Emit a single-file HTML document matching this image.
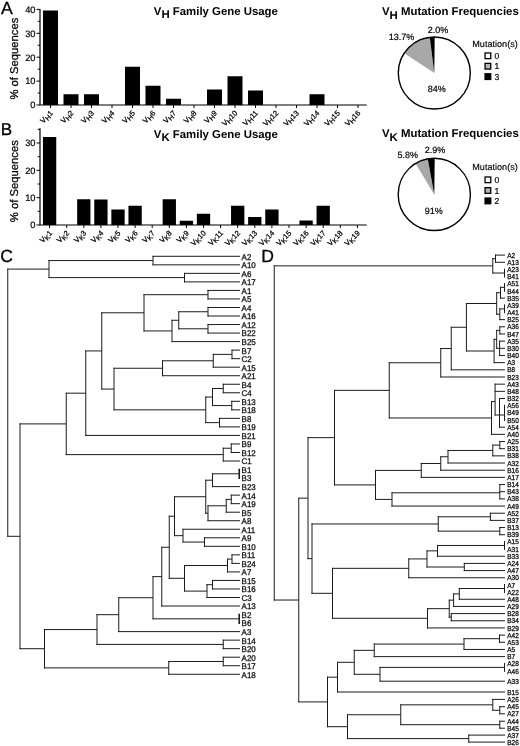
<!DOCTYPE html>
<html><head><meta charset="utf-8"><title>Figure</title>
<style>html,body{margin:0;padding:0;background:#fff}svg{display:block}text{font-family:"Liberation Sans", sans-serif;text-rendering:geometricPrecision}</style>
</head><body>
<div style="will-change:transform;width:520px;height:746px">
<svg width="520" height="746" viewBox="0 0 520 746">
<g font-size="17.6" fill="#000" stroke="#000" stroke-width="0.3">
<text x="1.0" y="13.9">A</text>
<text x="0.7" y="135.2" font-size="17">B</text>
<text x="0.3" y="261.9" font-size="17.6">C</text>
<text x="261.2" y="262.1" font-size="17.6">D</text>
</g>
<path d="M40.00 9.00V105.00H366.75" fill="none" stroke="#000" stroke-width="1.2"/><path d="M36.50 105.00H40.00M36.50 81.10H40.00M36.50 57.20H40.00M36.50 33.30H40.00M36.50 9.40H40.00M37.70 93.05H40.00M37.70 69.15H40.00M37.70 45.25H40.00M37.70 21.35H40.00M50.50 105.00V108.00M71.00 105.00V108.00M91.50 105.00V108.00M112.00 105.00V108.00M132.50 105.00V108.00M153.00 105.00V108.00M173.50 105.00V108.00M194.00 105.00V108.00M214.50 105.00V108.00M235.00 105.00V108.00M255.50 105.00V108.00M276.00 105.00V108.00M296.50 105.00V108.00M317.00 105.00V108.00M337.50 105.00V108.00M358.00 105.00V108.00" fill="none" stroke="#000" stroke-width="1"/><g font-size="9.3" text-anchor="end" fill="#000" stroke="#000" stroke-width="0.2"><text x="35.50" y="108.30">0</text><text x="35.50" y="84.40">10</text><text x="35.50" y="60.50">20</text><text x="35.50" y="36.60">30</text><text x="35.50" y="12.70">40</text></g><path d="M43.00 105.00h15.00V10.60h-15.00zM63.50 105.00h15.00V94.25h-15.00zM84.00 105.00h15.00V94.25h-15.00zM125.00 105.00h15.00V66.76h-15.00zM145.50 105.00h15.00V85.76h-15.00zM166.00 105.00h15.00V98.79h-15.00zM207.00 105.00h15.00V89.47h-15.00zM227.50 105.00h15.00V76.32h-15.00zM248.00 105.00h15.00V90.54h-15.00zM309.50 105.00h15.00V94.25h-15.00z" fill="#000"/><g fill="#000" stroke="#000" stroke-width="0.25"><text transform="translate(53.50 113.50) rotate(-45)" text-anchor="end" font-size="7.50">V<tspan font-size="7.12" dy="1.6">H</tspan><tspan dy="-1.6">1</tspan></text><text transform="translate(74.00 113.50) rotate(-45)" text-anchor="end" font-size="7.50">V<tspan font-size="7.12" dy="1.6">H</tspan><tspan dy="-1.6">2</tspan></text><text transform="translate(94.50 113.50) rotate(-45)" text-anchor="end" font-size="7.50">V<tspan font-size="7.12" dy="1.6">H</tspan><tspan dy="-1.6">3</tspan></text><text transform="translate(115.00 113.50) rotate(-45)" text-anchor="end" font-size="7.50">V<tspan font-size="7.12" dy="1.6">H</tspan><tspan dy="-1.6">4</tspan></text><text transform="translate(135.50 113.50) rotate(-45)" text-anchor="end" font-size="7.50">V<tspan font-size="7.12" dy="1.6">H</tspan><tspan dy="-1.6">5</tspan></text><text transform="translate(156.00 113.50) rotate(-45)" text-anchor="end" font-size="7.50">V<tspan font-size="7.12" dy="1.6">H</tspan><tspan dy="-1.6">6</tspan></text><text transform="translate(176.50 113.50) rotate(-45)" text-anchor="end" font-size="7.50">V<tspan font-size="7.12" dy="1.6">H</tspan><tspan dy="-1.6">7</tspan></text><text transform="translate(197.00 113.50) rotate(-45)" text-anchor="end" font-size="7.50">V<tspan font-size="7.12" dy="1.6">H</tspan><tspan dy="-1.6">8</tspan></text><text transform="translate(217.50 113.50) rotate(-45)" text-anchor="end" font-size="7.50">V<tspan font-size="7.12" dy="1.6">H</tspan><tspan dy="-1.6">9</tspan></text><text transform="translate(238.00 113.50) rotate(-45)" text-anchor="end" font-size="7.50">V<tspan font-size="7.12" dy="1.6">H</tspan><tspan dy="-1.6">10</tspan></text><text transform="translate(258.50 113.50) rotate(-45)" text-anchor="end" font-size="7.50">V<tspan font-size="7.12" dy="1.6">H</tspan><tspan dy="-1.6">11</tspan></text><text transform="translate(279.00 113.50) rotate(-45)" text-anchor="end" font-size="7.50">V<tspan font-size="7.12" dy="1.6">H</tspan><tspan dy="-1.6">12</tspan></text><text transform="translate(299.50 113.50) rotate(-45)" text-anchor="end" font-size="7.50">V<tspan font-size="7.12" dy="1.6">H</tspan><tspan dy="-1.6">13</tspan></text><text transform="translate(320.00 113.50) rotate(-45)" text-anchor="end" font-size="7.50">V<tspan font-size="7.12" dy="1.6">H</tspan><tspan dy="-1.6">14</tspan></text><text transform="translate(340.50 113.50) rotate(-45)" text-anchor="end" font-size="7.50">V<tspan font-size="7.12" dy="1.6">H</tspan><tspan dy="-1.6">15</tspan></text><text transform="translate(361.00 113.50) rotate(-45)" text-anchor="end" font-size="7.50">V<tspan font-size="7.12" dy="1.6">H</tspan><tspan dy="-1.6">16</tspan></text></g>
<text transform="translate(18.3 58.6) rotate(-90)" text-anchor="middle" font-size="11.25" stroke="#000" stroke-width="0.25">% of Sequences</text>
<text x="153.80" y="14.80" font-size="11.40" font-weight="bold">V<tspan dy="3.00">H</tspan><tspan dy="-3.00"> Family Gene Usage</tspan></text>
<path d="M40.00 128.25V225.00H366.75" fill="none" stroke="#000" stroke-width="1.2"/><path d="M36.50 225.00H40.00M36.50 197.67H40.00M36.50 170.34H40.00M36.50 143.01H40.00M37.70 211.34H40.00M37.70 184.00H40.00M37.70 156.68H40.00M37.70 129.35H40.00M49.60 225.00V228.00M66.70 225.00V228.00M83.80 225.00V228.00M100.90 225.00V228.00M118.00 225.00V228.00M135.10 225.00V228.00M152.20 225.00V228.00M169.30 225.00V228.00M186.40 225.00V228.00M203.50 225.00V228.00M220.60 225.00V228.00M237.70 225.00V228.00M254.80 225.00V228.00M271.90 225.00V228.00M289.00 225.00V228.00M306.10 225.00V228.00M323.20 225.00V228.00M340.30 225.00V228.00M357.40 225.00V228.00" fill="none" stroke="#000" stroke-width="1"/><g font-size="9.3" text-anchor="end" fill="#000" stroke="#000" stroke-width="0.2"><text x="35.50" y="228.30">0</text><text x="35.50" y="200.97">10</text><text x="35.50" y="173.64">20</text><text x="35.50" y="146.31">30</text></g><path d="M42.95 225.00h13.30V137.00h-13.30zM77.15 225.00h13.30V199.31h-13.30zM94.25 225.00h13.30V199.58h-13.30zM111.35 225.00h13.30V209.56h-13.30zM128.45 225.00h13.30V205.73h-13.30zM162.65 225.00h13.30V199.31h-13.30zM179.75 225.00h13.30V220.76h-13.30zM196.85 225.00h13.30V213.79h-13.30zM231.05 225.00h13.30V205.73h-13.30zM248.15 225.00h13.30V217.07h-13.30zM265.25 225.00h13.30V209.56h-13.30zM299.45 225.00h13.30V220.49h-13.30zM316.55 225.00h13.30V205.73h-13.30z" fill="#000"/><g fill="#000" stroke="#000" stroke-width="0.25"><text transform="translate(52.60 233.50) rotate(-45)" text-anchor="end" font-size="7.50">V<tspan font-size="7.12" dy="1.6">K</tspan><tspan dy="-1.6">1</tspan></text><text transform="translate(69.70 233.50) rotate(-45)" text-anchor="end" font-size="7.50">V<tspan font-size="7.12" dy="1.6">K</tspan><tspan dy="-1.6">2</tspan></text><text transform="translate(86.80 233.50) rotate(-45)" text-anchor="end" font-size="7.50">V<tspan font-size="7.12" dy="1.6">K</tspan><tspan dy="-1.6">3</tspan></text><text transform="translate(103.90 233.50) rotate(-45)" text-anchor="end" font-size="7.50">V<tspan font-size="7.12" dy="1.6">K</tspan><tspan dy="-1.6">4</tspan></text><text transform="translate(121.00 233.50) rotate(-45)" text-anchor="end" font-size="7.50">V<tspan font-size="7.12" dy="1.6">K</tspan><tspan dy="-1.6">5</tspan></text><text transform="translate(138.10 233.50) rotate(-45)" text-anchor="end" font-size="7.50">V<tspan font-size="7.12" dy="1.6">K</tspan><tspan dy="-1.6">6</tspan></text><text transform="translate(155.20 233.50) rotate(-45)" text-anchor="end" font-size="7.50">V<tspan font-size="7.12" dy="1.6">K</tspan><tspan dy="-1.6">7</tspan></text><text transform="translate(172.30 233.50) rotate(-45)" text-anchor="end" font-size="7.50">V<tspan font-size="7.12" dy="1.6">K</tspan><tspan dy="-1.6">8</tspan></text><text transform="translate(189.40 233.50) rotate(-45)" text-anchor="end" font-size="7.50">V<tspan font-size="7.12" dy="1.6">K</tspan><tspan dy="-1.6">9</tspan></text><text transform="translate(206.50 233.50) rotate(-45)" text-anchor="end" font-size="7.50">V<tspan font-size="7.12" dy="1.6">K</tspan><tspan dy="-1.6">10</tspan></text><text transform="translate(223.60 233.50) rotate(-45)" text-anchor="end" font-size="7.50">V<tspan font-size="7.12" dy="1.6">K</tspan><tspan dy="-1.6">11</tspan></text><text transform="translate(240.70 233.50) rotate(-45)" text-anchor="end" font-size="7.50">V<tspan font-size="7.12" dy="1.6">K</tspan><tspan dy="-1.6">12</tspan></text><text transform="translate(257.80 233.50) rotate(-45)" text-anchor="end" font-size="7.50">V<tspan font-size="7.12" dy="1.6">K</tspan><tspan dy="-1.6">13</tspan></text><text transform="translate(274.90 233.50) rotate(-45)" text-anchor="end" font-size="7.50">V<tspan font-size="7.12" dy="1.6">K</tspan><tspan dy="-1.6">14</tspan></text><text transform="translate(292.00 233.50) rotate(-45)" text-anchor="end" font-size="7.50">V<tspan font-size="7.12" dy="1.6">K</tspan><tspan dy="-1.6">15</tspan></text><text transform="translate(309.10 233.50) rotate(-45)" text-anchor="end" font-size="7.50">V<tspan font-size="7.12" dy="1.6">K</tspan><tspan dy="-1.6">16</tspan></text><text transform="translate(326.20 233.50) rotate(-45)" text-anchor="end" font-size="7.50">V<tspan font-size="7.12" dy="1.6">K</tspan><tspan dy="-1.6">17</tspan></text><text transform="translate(343.30 233.50) rotate(-45)" text-anchor="end" font-size="7.50">V<tspan font-size="7.12" dy="1.6">K</tspan><tspan dy="-1.6">18</tspan></text><text transform="translate(360.40 233.50) rotate(-45)" text-anchor="end" font-size="7.50">V<tspan font-size="7.12" dy="1.6">K</tspan><tspan dy="-1.6">19</tspan></text></g>
<text transform="translate(18.1 181.2) rotate(-90)" text-anchor="middle" font-size="11.25" stroke="#000" stroke-width="0.25">% of Sequences</text>
<text x="153.80" y="138.40" font-size="11.40" font-weight="bold">V<tspan dy="2.90">K</tspan><tspan dy="-2.90"> Family Gene Usage</tspan></text>
<text x="382.00" y="14.50" font-size="11.40" font-weight="bold">V<tspan dy="4.00">H</tspan><tspan dy="-4.00"> Mutation Frequencies</tspan></text>
<circle cx="434.30" cy="73.00" r="36.00" fill="#fff"/><path d="M434.30 73.00L429.79 37.28A36.00 36.00 0 0 0 404.27 53.14z" fill="#a8a8a8"/><path d="M434.30 73.00L434.70 37.00A36.00 36.00 0 0 0 429.79 37.28z" fill="#000"/><circle cx="434.30" cy="73.00" r="36.00" fill="none" stroke="#000" stroke-width="1.4"/>
<g font-size="9" fill="#000" stroke="#000" stroke-width="0.2">
<text x="427.7" y="32.7">2.0%</text>
<text x="388.7" y="40">13.7%</text>
<text x="427.7" y="92.4">84%</text>
</g>
<text x="472.3" y="46.50" font-size="9.1" stroke="#000" stroke-width="0.15">Mutation(s)</text><rect x="485.05" y="52.95" width="5.7" height="5.7" fill="#fff" stroke="#000" stroke-width="1.3"/><text x="494.55" y="58.80" font-size="8.6" stroke="#000" stroke-width="0.2">0</text><rect x="485.05" y="63.35" width="5.7" height="5.7" fill="#b4b4b4" stroke="#000" stroke-width="1.3"/><text x="494.55" y="69.20" font-size="8.6" stroke="#000" stroke-width="0.2">1</text><rect x="485.05" y="73.75" width="5.7" height="5.7" fill="#000" stroke="#000" stroke-width="1.3"/><text x="494.55" y="79.60" font-size="8.6" stroke="#000" stroke-width="0.2">3</text>
<text x="382.00" y="137.00" font-size="11.40" font-weight="bold">V<tspan dy="4.00">K</tspan><tspan dy="-4.00"> Mutation Frequencies</tspan></text>
<circle cx="434.30" cy="194.40" r="36.10" fill="#fff"/><path d="M434.30 194.40L427.76 158.90A36.10 36.10 0 0 0 415.53 163.56z" fill="#a8a8a8"/><path d="M434.30 194.40L434.70 158.30A36.10 36.10 0 0 0 427.76 158.90z" fill="#000"/><circle cx="434.30" cy="194.40" r="36.10" fill="none" stroke="#000" stroke-width="1.4"/>
<g font-size="9" fill="#000" stroke="#000" stroke-width="0.2">
<text x="424.8" y="153.3">2.9%</text>
<text x="397.4" y="158.2">5.8%</text>
<text x="424.8" y="213.9">91%</text>
</g>
<text x="472.3" y="169.80" font-size="9.1" stroke="#000" stroke-width="0.15">Mutation(s)</text><rect x="485.05" y="176.95" width="5.7" height="5.7" fill="#fff" stroke="#000" stroke-width="1.3"/><text x="494.55" y="182.80" font-size="8.6" stroke="#000" stroke-width="0.2">0</text><rect x="485.05" y="187.65" width="5.7" height="5.7" fill="#b4b4b4" stroke="#000" stroke-width="1.3"/><text x="494.55" y="193.50" font-size="8.6" stroke="#000" stroke-width="0.2">1</text><rect x="485.05" y="198.05" width="5.7" height="5.7" fill="#000" stroke="#000" stroke-width="1.3"/><text x="494.55" y="203.90" font-size="8.6" stroke="#000" stroke-width="0.2">2</text>
<path d="M153.00 255.80V265.33M152.50 256.30H240.00M152.50 264.83H240.00M184.50 272.86V282.39M184.00 273.36H240.00M184.00 281.89H240.00M49.00 260.06V278.12M48.50 260.56H153.00M48.50 277.62H184.50M208.00 289.92V299.45M207.50 290.42H240.00M207.50 298.95H240.00M208.00 306.98V316.51M207.50 307.48H240.00M207.50 316.01H240.00M208.00 324.04V333.57M207.50 324.54H240.00M207.50 333.07H240.00M178.75 311.25V329.31M178.25 311.75H208.00M178.25 328.81H208.00M172.00 319.77V342.10M171.50 320.27H178.75M171.50 341.60H240.00M144.00 294.19V331.44M143.50 294.69H208.00M143.50 330.94H172.00M232.00 349.63V359.16M231.50 350.13H240.00M231.50 358.66H240.00M213.25 353.89V367.69M212.75 354.39H232.00M212.75 367.19H240.00M162.50 360.29V376.22M162.00 360.79H213.25M162.00 375.72H240.00M223.25 383.75V393.28M222.75 384.25H240.00M222.75 392.78H240.00M231.75 400.81V410.34M231.25 401.31H240.00M231.25 409.84H240.00M212.50 388.01V406.08M212.00 388.51H223.25M212.00 405.58H231.75M219.50 417.87V427.40M219.00 418.37H240.00M219.00 426.90H240.00M205.75 396.55V423.13M205.25 397.05H212.50M205.25 422.63H219.50M114.00 367.76V410.34M113.50 368.26H162.50M113.50 409.84H205.75M101.75 312.31V389.55M101.25 312.81H144.00M101.25 389.05H114.00M85.75 350.43V435.93M85.25 350.93H101.75M85.25 435.43H240.00M231.25 443.46V452.99M230.75 443.96H240.00M230.75 452.49H240.00M223.25 447.73V461.52M222.75 448.23H231.25M222.75 461.02H240.00M66.25 392.68V455.12M65.75 393.18H85.75M65.75 454.62H223.25M238.75 469.55H240.00M238.75 478.08H240.00M212.50 473.31V487.11M212.00 473.81H239.25M212.00 486.61H240.00M231.25 494.64V504.17M230.75 495.14H240.00M230.75 503.67H240.00M226.25 498.90V512.70M225.75 499.40H231.25M225.75 512.20H240.00M208.00 505.30V521.23M207.50 505.80H226.25M207.50 520.73H240.00M205.75 479.71V513.77M205.25 480.21H212.50M205.25 513.27H208.00M204.50 537.29V546.82M204.00 537.79H240.00M204.00 546.32H240.00M183.00 528.76V542.55M182.50 529.26H240.00M182.50 542.05H204.50M174.50 496.24V536.16M174.00 496.74H205.75M174.00 535.66H183.00M232.00 554.35V563.88M231.50 554.85H240.00M231.50 563.38H240.00M227.50 558.62V572.41M227.00 559.12H232.00M227.00 571.91H240.00M212.50 579.94V589.47M212.00 580.44H240.00M212.00 588.97H240.00M207.00 584.21V598.00M206.50 584.71H212.50M206.50 597.50H240.00M184.50 565.01V591.60M184.00 565.51H227.50M184.00 591.10H207.00M169.25 515.70V578.81M168.75 516.20H174.50M168.75 578.31H184.50M161.75 546.75V606.53M161.25 547.25H169.25M161.25 606.03H240.00M238.75 614.56H240.00M238.75 623.09H240.00M153.00 576.14V619.32M152.50 576.64H161.75M152.50 618.82H239.25M118.75 597.23V632.12M118.25 597.73H153.00M118.25 631.62H240.00M223.25 639.65V649.18M222.75 640.15H240.00M222.75 648.68H240.00M97.00 614.18V644.91M96.50 614.68H118.75M96.50 644.41H223.25M223.25 656.71V666.24M222.75 657.21H240.00M222.75 665.74H240.00M168.75 660.98V674.77M168.25 661.48H223.25M168.25 674.27H240.00M44.50 629.05V668.37M44.00 629.55H97.00M44.00 667.87H168.75M20.00 423.40V649.21M19.50 423.90H66.25M19.50 648.71H44.50M7.75 268.60V536.81M7.25 269.10H49.00M7.25 536.31H20.00" fill="none" stroke="#1c1c1c" stroke-width="1.00"/><path d="M239.25 468.75V478.88M239.25 613.76V623.89" fill="none" stroke="#1c1c1c" stroke-width="1.60"/><g font-size="8.30" fill="#111" stroke="#111" stroke-width="0.3"><text transform="translate(241.60 259.69) scale(0.960 1)">A2</text><text transform="translate(241.60 268.22) scale(0.960 1)">A10</text><text transform="translate(241.60 276.75) scale(0.960 1)">A6</text><text transform="translate(241.60 285.28) scale(0.960 1)">A17</text><text transform="translate(241.60 293.81) scale(0.960 1)">A1</text><text transform="translate(241.60 302.34) scale(0.960 1)">A5</text><text transform="translate(241.60 310.87) scale(0.960 1)">A4</text><text transform="translate(241.60 319.40) scale(0.960 1)">A16</text><text transform="translate(241.60 327.93) scale(0.960 1)">A12</text><text transform="translate(241.60 336.46) scale(0.960 1)">B22</text><text transform="translate(241.60 344.99) scale(0.960 1)">B25</text><text transform="translate(241.60 353.52) scale(0.960 1)">B7</text><text transform="translate(241.60 362.05) scale(0.960 1)">C2</text><text transform="translate(241.60 370.58) scale(0.960 1)">A15</text><text transform="translate(241.60 379.11) scale(0.960 1)">A21</text><text transform="translate(241.60 387.64) scale(0.960 1)">B4</text><text transform="translate(241.60 396.17) scale(0.960 1)">C4</text><text transform="translate(241.60 404.70) scale(0.960 1)">B13</text><text transform="translate(241.60 413.23) scale(0.960 1)">B18</text><text transform="translate(241.60 421.76) scale(0.960 1)">B8</text><text transform="translate(241.60 430.29) scale(0.960 1)">B19</text><text transform="translate(241.60 438.82) scale(0.960 1)">B21</text><text transform="translate(241.60 447.35) scale(0.960 1)">B9</text><text transform="translate(241.60 455.88) scale(0.960 1)">B12</text><text transform="translate(241.60 464.41) scale(0.960 1)">C1</text><text transform="translate(241.60 472.94) scale(0.960 1)">B1</text><text transform="translate(241.60 481.47) scale(0.960 1)">B3</text><text transform="translate(241.60 490.00) scale(0.960 1)">B23</text><text transform="translate(241.60 498.53) scale(0.960 1)">A14</text><text transform="translate(241.60 507.06) scale(0.960 1)">A19</text><text transform="translate(241.60 515.59) scale(0.960 1)">B5</text><text transform="translate(241.60 524.12) scale(0.960 1)">A8</text><text transform="translate(241.60 532.65) scale(0.960 1)">A11</text><text transform="translate(241.60 541.18) scale(0.960 1)">A9</text><text transform="translate(241.60 549.71) scale(0.960 1)">B10</text><text transform="translate(241.60 558.24) scale(0.960 1)">B11</text><text transform="translate(241.60 566.77) scale(0.960 1)">B24</text><text transform="translate(241.60 575.30) scale(0.960 1)">A7</text><text transform="translate(241.60 583.83) scale(0.960 1)">B15</text><text transform="translate(241.60 592.36) scale(0.960 1)">B16</text><text transform="translate(241.60 600.89) scale(0.960 1)">C3</text><text transform="translate(241.60 609.42) scale(0.960 1)">A13</text><text transform="translate(241.60 617.95) scale(0.960 1)">B2</text><text transform="translate(241.60 626.48) scale(0.960 1)">B6</text><text transform="translate(241.60 635.01) scale(0.960 1)">A3</text><text transform="translate(241.60 643.54) scale(0.960 1)">B14</text><text transform="translate(241.60 652.07) scale(0.960 1)">B20</text><text transform="translate(241.60 660.60) scale(0.960 1)">A20</text><text transform="translate(241.60 669.13) scale(0.960 1)">B17</text><text transform="translate(241.60 677.66) scale(0.960 1)">A18</text></g>
<path d="M495.50 254.60V262.77M495.00 255.10H505.00M495.00 262.27H505.00M504.00 269.44H505.00M504.00 276.61H505.00M492.80 258.19V273.52M492.30 258.69H495.50M492.30 273.02H504.50M504.00 283.78H505.00M504.00 290.95H505.00M500.50 286.87V298.62M500.00 287.37H504.50M500.00 298.12H505.00M504.00 305.29H505.00M504.00 312.46H505.00M499.80 308.38V320.13M499.30 308.88H504.50M499.30 319.63H505.00M496.70 292.24V314.75M496.20 292.74H500.50M496.20 314.25H499.80M499.80 326.30V334.47M499.30 326.80H505.00M499.30 333.97H505.00M499.60 340.64V355.98M499.10 341.14H505.00M499.10 348.31H505.00M499.10 355.48H505.00M496.70 329.88V348.81M496.20 330.38H499.80M496.20 348.31H499.60M494.10 338.85V363.15M493.60 339.35H496.70M493.60 362.65H505.00M466.40 303.00V351.50M465.90 303.50H496.70M465.90 351.00H494.10M451.25 326.75V370.32M450.75 327.25H466.40M450.75 369.82H505.00M440.75 348.03V377.49M440.25 348.53H451.25M440.25 376.99H505.00M504.00 405.67H505.00M504.00 412.84H505.00M504.00 420.01H505.00M499.50 398.00V427.68M499.00 398.50H505.00M499.00 415.00H504.50M499.00 427.18H505.00M495.10 383.66V415.50M494.60 384.16H505.00M494.60 391.33H505.00M494.60 415.00H499.50M491.50 401.10V434.85M491.00 401.60H495.10M491.00 434.35H505.00M389.25 362.26V418.48M388.75 362.76H440.75M388.75 417.98H491.50M499.80 441.02V449.19M499.30 441.52H505.00M499.30 448.69H505.00M492.80 444.61V456.36M492.30 445.11H499.80M492.30 455.86H505.00M448.00 449.98V463.53M447.50 450.48H492.80M447.50 463.03H505.00M440.75 456.26V470.70M440.25 456.76H448.00M440.25 470.20H505.00M421.25 462.98V477.87M420.75 463.48H440.75M420.75 477.37H505.00M499.80 484.04V499.38M499.30 484.54H505.00M499.30 491.71H505.00M499.30 498.88H505.00M392.00 492.30V506.55M391.50 492.80H499.80M391.50 506.05H505.00M375.50 469.92V499.92M375.00 470.42H421.25M375.00 499.42H392.00M334.50 389.87V485.42M334.00 390.37H389.25M334.00 484.92H375.50M490.40 512.72V520.89M489.90 513.22H505.00M489.90 520.39H505.00M499.80 527.06V535.23M499.30 527.56H505.00M499.30 534.73H505.00M438.25 516.31V531.64M437.75 516.81H490.40M437.75 531.14H499.80M504.00 541.90H505.00M504.00 549.07H505.00M437.50 544.98V556.74M437.00 545.48H504.50M437.00 556.24H505.00M464.30 562.91V571.08M463.80 563.41H505.00M463.80 570.58H505.00M427.00 550.36V567.50M426.50 550.86H437.50M426.50 567.00H464.30M408.75 558.43V578.25M408.25 558.93H427.00M408.25 577.75H505.00M504.00 584.92H505.00M504.00 592.09H505.00M459.30 588.00V599.76M458.80 588.50H504.50M458.80 599.26H505.00M453.60 593.38V606.93M453.10 593.88H459.30M453.10 606.43H505.00M451.25 613.10V621.27M450.75 613.60H505.00M450.75 620.77H505.00M449.25 599.66V617.68M448.75 600.16H453.60M448.75 617.18H451.25M427.50 608.17V628.44M427.00 608.67H449.25M427.00 627.94H505.00M332.50 567.84V618.81M332.00 568.34H408.75M332.00 618.31H427.50M312.00 523.48V593.82M311.50 523.98H438.25M311.50 593.32H332.50M308.00 437.15V559.15M307.50 437.65H334.50M307.50 558.65H312.00M499.50 634.61V642.78M499.00 635.11H505.00M499.00 642.28H505.00M464.00 638.19V649.95M463.50 638.69H499.50M463.50 649.45H505.00M374.25 643.57V657.12M373.75 644.07H464.00M373.75 656.62H505.00M504.00 663.79H505.00M504.00 670.96H505.00M380.00 666.88V681.70M379.50 667.38H504.50M379.50 681.20H505.00M354.25 649.85V674.79M353.75 650.35H374.25M353.75 674.29H380.00M337.50 661.82V692.50M337.00 662.32H354.25M337.00 692.00H505.00M499.80 706.20V714.30M499.30 706.70H505.00M499.30 713.80H505.00M492.80 698.90V710.75M492.30 699.40H505.00M492.30 710.25H499.80M499.80 720.70V728.70M499.30 721.20H505.00M499.30 728.20H505.00M400.75 704.33V725.20M400.25 704.83H492.80M400.25 724.70H499.80M468.75 734.60V742.60M468.25 735.10H505.00M468.25 742.10H505.00M347.50 714.26V739.10M347.00 714.76H400.75M347.00 738.60H468.75M327.50 676.66V727.18M327.00 677.16H337.50M327.00 726.68H347.50M298.75 497.65V702.42M298.25 498.15H308.00M298.25 701.92H327.50M274.25 265.36V600.53M273.75 265.86H492.80M273.75 600.03H298.75" fill="none" stroke="#1c1c1c" stroke-width="1.00"/><path d="M504.50 268.64V277.41M504.50 282.98V291.75M504.50 304.49V313.26M504.50 404.87V420.81M504.50 541.10V549.87M504.50 584.12V592.89M504.50 662.99V671.76" fill="none" stroke="#1c1c1c" stroke-width="1.00"/><g font-size="7.20" fill="#111" stroke="#111" stroke-width="0.3"><text transform="translate(507.30 257.69) scale(0.900 1)">A2</text><text transform="translate(507.30 264.86) scale(0.900 1)">A13</text><text transform="translate(507.30 272.03) scale(0.900 1)">A23</text><text transform="translate(507.30 279.20) scale(0.900 1)">B41</text><text transform="translate(507.30 286.37) scale(0.900 1)">A51</text><text transform="translate(507.30 293.54) scale(0.900 1)">B44</text><text transform="translate(507.30 300.71) scale(0.900 1)">B35</text><text transform="translate(507.30 307.88) scale(0.900 1)">A39</text><text transform="translate(507.30 315.05) scale(0.900 1)">A41</text><text transform="translate(507.30 322.22) scale(0.900 1)">B25</text><text transform="translate(507.30 329.39) scale(0.900 1)">A36</text><text transform="translate(507.30 336.56) scale(0.900 1)">B47</text><text transform="translate(507.30 343.73) scale(0.900 1)">A35</text><text transform="translate(507.30 350.90) scale(0.900 1)">B30</text><text transform="translate(507.30 358.07) scale(0.900 1)">B40</text><text transform="translate(507.30 365.24) scale(0.900 1)">A3</text><text transform="translate(507.30 372.41) scale(0.900 1)">B8</text><text transform="translate(507.30 379.58) scale(0.900 1)">B23</text><text transform="translate(507.30 386.75) scale(0.900 1)">A43</text><text transform="translate(507.30 393.92) scale(0.900 1)">B48</text><text transform="translate(507.30 401.09) scale(0.900 1)">B32</text><text transform="translate(507.30 408.26) scale(0.900 1)">A56</text><text transform="translate(507.30 415.43) scale(0.900 1)">B49</text><text transform="translate(507.30 422.60) scale(0.900 1)">B50</text><text transform="translate(507.30 429.77) scale(0.900 1)">A54</text><text transform="translate(507.30 436.94) scale(0.900 1)">A40</text><text transform="translate(507.30 444.11) scale(0.900 1)">A25</text><text transform="translate(507.30 451.28) scale(0.900 1)">B31</text><text transform="translate(507.30 458.45) scale(0.900 1)">B38</text><text transform="translate(507.30 465.62) scale(0.900 1)">A32</text><text transform="translate(507.30 472.79) scale(0.900 1)">B16</text><text transform="translate(507.30 479.96) scale(0.900 1)">A17</text><text transform="translate(507.30 487.13) scale(0.900 1)">B14</text><text transform="translate(507.30 494.30) scale(0.900 1)">B43</text><text transform="translate(507.30 501.47) scale(0.900 1)">A38</text><text transform="translate(507.30 508.64) scale(0.900 1)">A49</text><text transform="translate(507.30 515.81) scale(0.900 1)">A52</text><text transform="translate(507.30 522.98) scale(0.900 1)">B37</text><text transform="translate(507.30 530.15) scale(0.900 1)">B13</text><text transform="translate(507.30 537.32) scale(0.900 1)">B39</text><text transform="translate(507.30 544.49) scale(0.900 1)">A15</text><text transform="translate(507.30 551.66) scale(0.900 1)">A31</text><text transform="translate(507.30 558.83) scale(0.900 1)">B33</text><text transform="translate(507.30 566.00) scale(0.900 1)">A24</text><text transform="translate(507.30 573.17) scale(0.900 1)">A47</text><text transform="translate(507.30 580.34) scale(0.900 1)">A30</text><text transform="translate(507.30 587.51) scale(0.900 1)">A7</text><text transform="translate(507.30 594.68) scale(0.900 1)">A22</text><text transform="translate(507.30 601.85) scale(0.900 1)">A48</text><text transform="translate(507.30 609.02) scale(0.900 1)">A29</text><text transform="translate(507.30 616.19) scale(0.900 1)">B28</text><text transform="translate(507.30 623.36) scale(0.900 1)">B34</text><text transform="translate(507.30 630.53) scale(0.900 1)">B29</text><text transform="translate(507.30 637.70) scale(0.900 1)">A42</text><text transform="translate(507.30 644.87) scale(0.900 1)">A53</text><text transform="translate(507.30 652.04) scale(0.900 1)">A5</text><text transform="translate(507.30 659.21) scale(0.900 1)">B7</text><text transform="translate(507.30 666.38) scale(0.900 1)">A28</text><text transform="translate(507.30 673.55) scale(0.900 1)">A46</text><text transform="translate(507.30 683.79) scale(0.900 1)">A33</text><text transform="translate(507.30 694.59) scale(0.900 1)">B15</text><text transform="translate(507.30 701.99) scale(0.900 1)">A26</text><text transform="translate(507.30 709.29) scale(0.900 1)">A45</text><text transform="translate(507.30 716.39) scale(0.900 1)">A27</text><text transform="translate(507.30 723.79) scale(0.900 1)">A44</text><text transform="translate(507.30 730.79) scale(0.900 1)">B45</text><text transform="translate(507.30 737.69) scale(0.900 1)">A37</text><text transform="translate(507.30 744.69) scale(0.900 1)">B26</text></g>
</svg></div></body></html>
